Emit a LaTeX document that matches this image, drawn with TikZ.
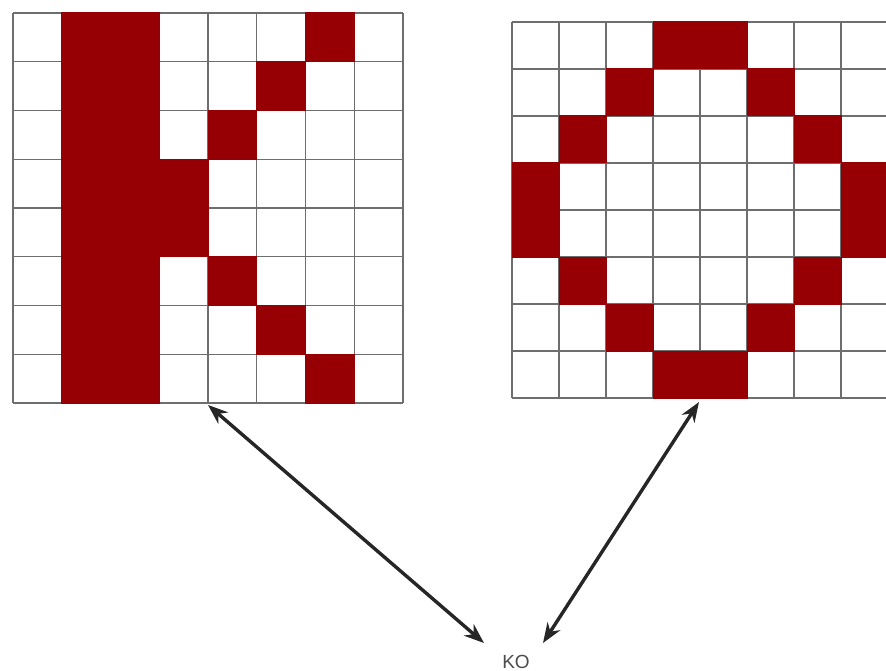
\documentclass[tikz,border=0pt]{standalone}
\usepackage{fontspec}
\setmainfont{Liberation Sans}
\usetikzlibrary{arrows.meta}
\definecolor{cellred}{RGB}{150,0,4}
\definecolor{gridgray}{RGB}{110,110,110}
\tikzset{
  cell/.style={fill=cellred},
  gridline/.style={draw=gridgray, line width=1.4pt},
  dblarrow/.style={line width=3.4pt, draw=black!85, {Stealth[length=20pt,width=15pt]}-{Stealth[length=20pt,width=15pt]}},
  lbl/.style={font=\fontsize{19}{19}\selectfont, text=black!70, inner sep=0pt}
}
\begin{document}
\begin{tikzpicture}[x=1pt,y=-1pt]
\useasboundingbox (0,0) rectangle (886,671);
\fill[white] (0,0) rectangle (886,671);
\clip (0,0) rectangle (886,671);
% left grid (K)
\def\lx{13}\def\ly{13}\def\lc{48.75}
\foreach \i in {0,...,8} {
  \draw[gridline] ({\lx+\i*\lc},\ly) -- ({\lx+\i*\lc},{\ly+8*\lc});
  \draw[gridline] (\lx,{\ly+\i*\lc}) -- ({\lx+8*\lc},{\ly+\i*\lc});
}
\foreach \r/\c in {0/1,0/2,0/6,1/1,1/2,1/5,2/1,2/2,2/4,3/1,3/2,3/3,4/1,4/2,4/3,5/1,5/2,5/4,6/1,6/2,6/5,7/1,7/2,7/6}
  \fill[cell] ({\lx+\c*\lc-0.5},{\ly+\r*\lc-0.5}) rectangle +(\lc+1,\lc+1);
% right grid (O)
\def\rx{512}\def\ry{22}\def\rc{47}
\foreach \i in {0,...,8} {
  \draw[gridline] ({\rx+\i*\rc},\ry) -- ({\rx+\i*\rc},{\ry+8*\rc});
  \draw[gridline] (\rx,{\ry+\i*\rc}) -- ({\rx+8*\rc},{\ry+\i*\rc});
}
\foreach \r/\c in {0/3,0/4,1/2,1/5,2/1,2/6,3/0,3/7,4/0,4/7,5/1,5/6,6/2,6/5,7/3,7/4}
  \fill[cell] ({\rx+\c*\rc-0.5},{\ry+\r*\rc-0.5}) rectangle +(\rc+1,\rc+1);
% label and arrows
\node[lbl] (ko) at (516,662) {KO};
\coordinate (la) at (208,405);
\coordinate (lb) at (484,643);
\coordinate (ra) at (699,402);
\coordinate (rb) at (543,643);
\draw[dblarrow] (la) -- (lb);
\draw[dblarrow] (ra) -- (rb);
\end{tikzpicture}
\end{document}
